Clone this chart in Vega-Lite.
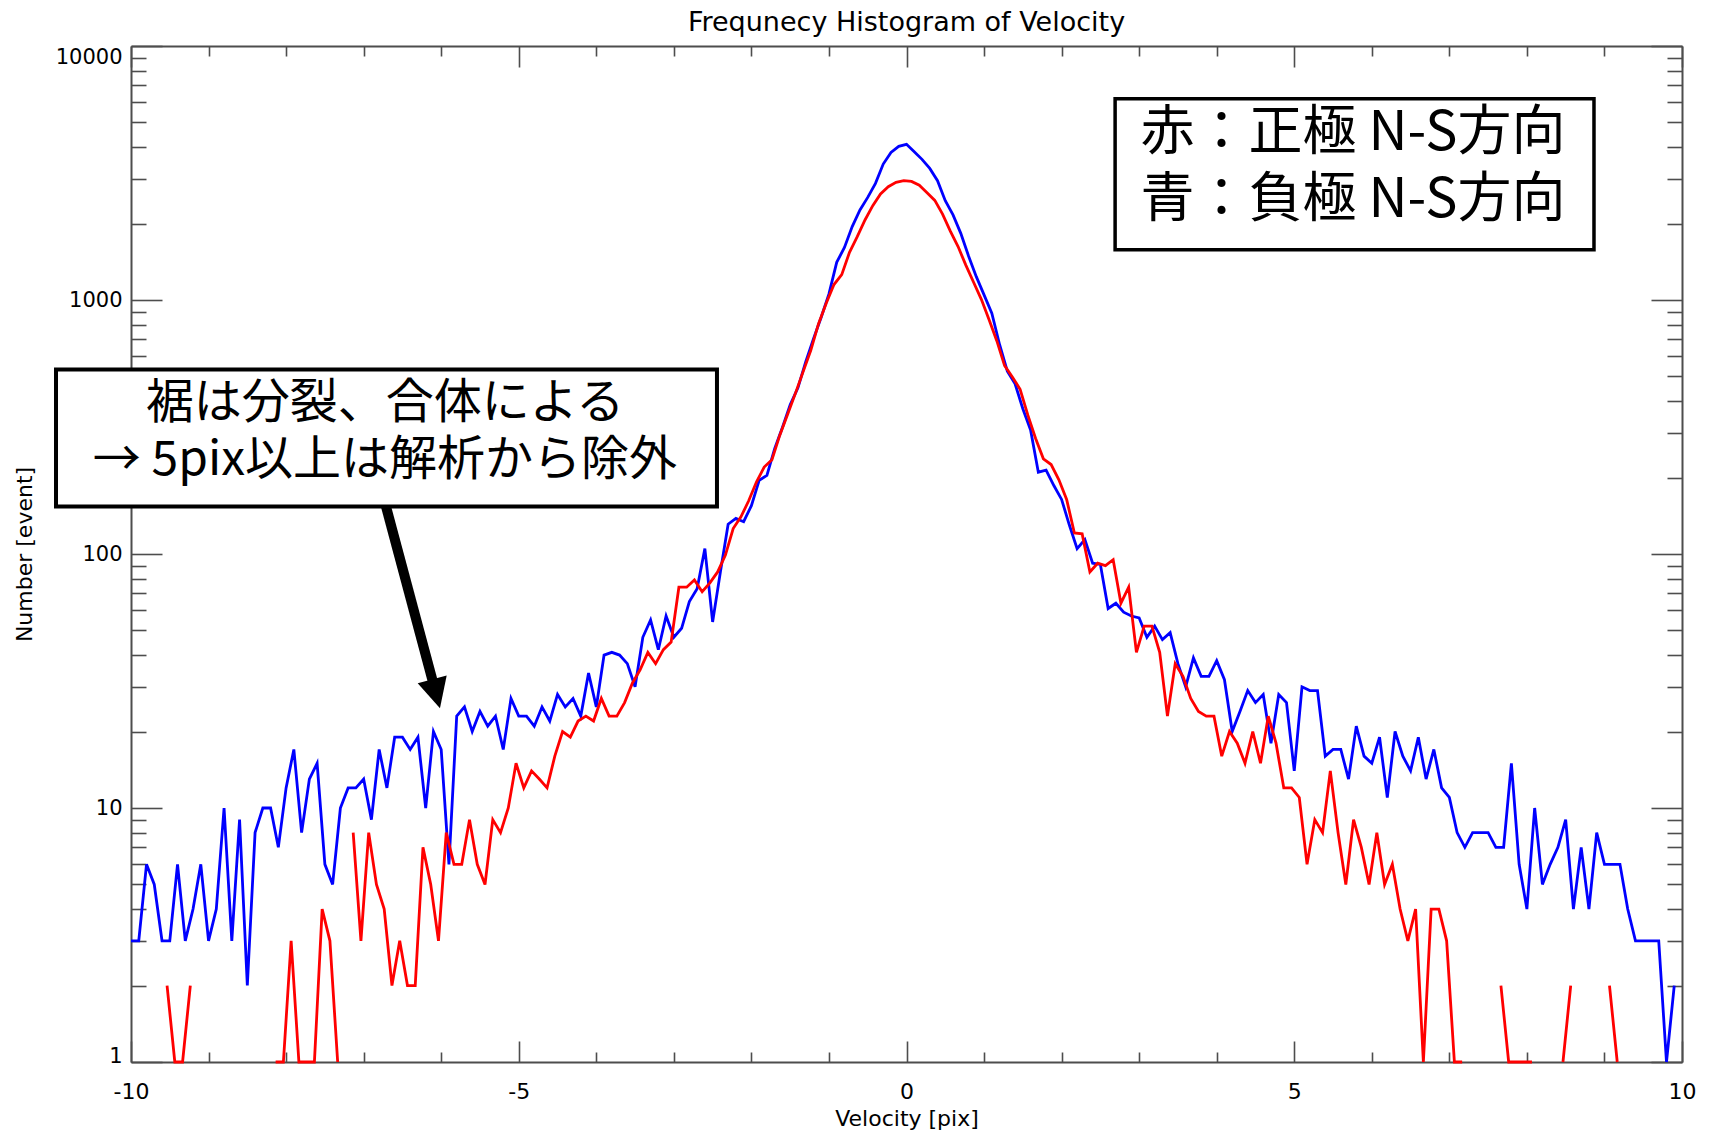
{
  "$schema": "https://vega.github.io/schema/vega-lite/v6.json",
  "width": 1551,
  "height": 1016,
  "autosize": "none",
  "padding": {"left": 131, "top": 46, "right": 31, "bottom": 72},
  "background": "white",
  "data": {"values": [{}]},
  "config": {
    "view": {"stroke": null},
    "font": "DejaVu Sans",
    "axis": {
      "domainColor": "#4d4d4d",
      "domainWidth": 2,
      "tickColor": "#4d4d4d",
      "tickWidth": 1.6,
      "labelFont": "DejaVu Sans",
      "labelFontSize": 21,
      "labelColor": "#000000",
      "titleFont": "DejaVu Sans",
      "titleFontSize": 22,
      "titleFontWeight": "normal",
      "titleColor": "#000000",
      "grid": false,
      "labelOverlap": false,
      "labelFlush": false
    }
  },
  "title": {
    "text": "Frequnecy Histogram of Velocity",
    "font": "DejaVu Sans",
    "fontSize": 27,
    "fontWeight": "normal",
    "color": "#000000",
    "frame": "group",
    "anchor": "middle",
    "baseline": "alphabetic",
    "offset": -13
  },
  "datasets": {
    "negative": [
      {"v": -10, "n": 3}, {"v": -9.9, "n": 3}, {"v": -9.8, "n": 6}, {"v": -9.7, "n": 5}, {"v": -9.6, "n": 3},
      {"v": -9.5, "n": 3}, {"v": -9.4, "n": 6}, {"v": -9.3, "n": 3}, {"v": -9.2, "n": 4}, {"v": -9.1, "n": 6},
      {"v": -9, "n": 3}, {"v": -8.9, "n": 4}, {"v": -8.8, "n": 10}, {"v": -8.7, "n": 3}, {"v": -8.6, "n": 9},
      {"v": -8.5, "n": 2}, {"v": -8.4, "n": 8}, {"v": -8.3, "n": 10}, {"v": -8.2, "n": 10}, {"v": -8.1, "n": 7},
      {"v": -8, "n": 12}, {"v": -7.9, "n": 17}, {"v": -7.8, "n": 8}, {"v": -7.7, "n": 13}, {"v": -7.6, "n": 15},
      {"v": -7.5, "n": 6}, {"v": -7.4, "n": 5}, {"v": -7.3, "n": 10}, {"v": -7.2, "n": 12}, {"v": -7.1, "n": 12},
      {"v": -7, "n": 13}, {"v": -6.9, "n": 9}, {"v": -6.8, "n": 17}, {"v": -6.7, "n": 12}, {"v": -6.6, "n": 19},
      {"v": -6.5, "n": 19}, {"v": -6.4, "n": 17}, {"v": -6.3, "n": 19}, {"v": -6.2, "n": 10}, {"v": -6.1, "n": 20},
      {"v": -6, "n": 17}, {"v": -5.9, "n": 6}, {"v": -5.8, "n": 23}, {"v": -5.7, "n": 25}, {"v": -5.6, "n": 20},
      {"v": -5.5, "n": 24}, {"v": -5.4, "n": 21}, {"v": -5.3, "n": 23}, {"v": -5.2, "n": 17}, {"v": -5.1, "n": 27},
      {"v": -5, "n": 23}, {"v": -4.9, "n": 23}, {"v": -4.8, "n": 21}, {"v": -4.7, "n": 25}, {"v": -4.6, "n": 22},
      {"v": -4.5, "n": 28}, {"v": -4.4, "n": 25}, {"v": -4.3, "n": 27}, {"v": -4.2, "n": 23}, {"v": -4.1, "n": 34},
      {"v": -4, "n": 25}, {"v": -3.9, "n": 40}, {"v": -3.8, "n": 41}, {"v": -3.7, "n": 40}, {"v": -3.6, "n": 37},
      {"v": -3.5, "n": 30}, {"v": -3.4, "n": 47}, {"v": -3.3, "n": 55}, {"v": -3.2, "n": 42}, {"v": -3.1, "n": 57},
      {"v": -3, "n": 47}, {"v": -2.9, "n": 51}, {"v": -2.8, "n": 65}, {"v": -2.7, "n": 73}, {"v": -2.6, "n": 105},
      {"v": -2.5, "n": 54}, {"v": -2.4, "n": 85}, {"v": -2.3, "n": 131}, {"v": -2.2, "n": 138}, {"v": -2.1, "n": 134},
      {"v": -2, "n": 155}, {"v": -1.9, "n": 195}, {"v": -1.8, "n": 204}, {"v": -1.7, "n": 260}, {"v": -1.6, "n": 315},
      {"v": -1.5, "n": 387}, {"v": -1.4, "n": 451}, {"v": -1.3, "n": 571}, {"v": -1.2, "n": 703}, {"v": -1.1, "n": 855},
      {"v": -1, "n": 1057}, {"v": -0.9, "n": 1407}, {"v": -0.8, "n": 1611}, {"v": -0.7, "n": 1945}, {"v": -0.6, "n": 2261},
      {"v": -0.5, "n": 2535}, {"v": -0.4, "n": 2878}, {"v": -0.3, "n": 3430}, {"v": -0.2, "n": 3811}, {"v": -0.1, "n": 4027},
      {"v": 0, "n": 4100}, {"v": 0.1, "n": 3837}, {"v": 0.2, "n": 3578}, {"v": 0.3, "n": 3296}, {"v": 0.4, "n": 2950},
      {"v": 0.5, "n": 2461}, {"v": 0.6, "n": 2162}, {"v": 0.7, "n": 1830}, {"v": 0.8, "n": 1490}, {"v": 0.9, "n": 1236},
      {"v": 1, "n": 1048}, {"v": 1.1, "n": 887}, {"v": 1.2, "n": 668}, {"v": 1.3, "n": 525}, {"v": 1.4, "n": 468},
      {"v": 1.5, "n": 373}, {"v": 1.6, "n": 308}, {"v": 1.7, "n": 210}, {"v": 1.8, "n": 214}, {"v": 1.9, "n": 186},
      {"v": 2, "n": 164}, {"v": 2.1, "n": 130}, {"v": 2.2, "n": 105}, {"v": 2.3, "n": 114}, {"v": 2.4, "n": 92},
      {"v": 2.5, "n": 91}, {"v": 2.6, "n": 61}, {"v": 2.7, "n": 64}, {"v": 2.8, "n": 59}, {"v": 2.9, "n": 57},
      {"v": 3, "n": 56}, {"v": 3.1, "n": 47}, {"v": 3.2, "n": 52}, {"v": 3.3, "n": 46}, {"v": 3.4, "n": 49},
      {"v": 3.5, "n": 37}, {"v": 3.6, "n": 30}, {"v": 3.7, "n": 39}, {"v": 3.8, "n": 33}, {"v": 3.9, "n": 33},
      {"v": 4, "n": 38}, {"v": 4.1, "n": 32}, {"v": 4.2, "n": 20}, {"v": 4.3, "n": 24}, {"v": 4.4, "n": 29},
      {"v": 4.5, "n": 26}, {"v": 4.6, "n": 28}, {"v": 4.7, "n": 18}, {"v": 4.8, "n": 28}, {"v": 4.9, "n": 26},
      {"v": 5, "n": 14}, {"v": 5.1, "n": 30}, {"v": 5.2, "n": 29}, {"v": 5.3, "n": 29}, {"v": 5.4, "n": 16},
      {"v": 5.5, "n": 17}, {"v": 5.6, "n": 17}, {"v": 5.7, "n": 13}, {"v": 5.8, "n": 21}, {"v": 5.9, "n": 16},
      {"v": 6, "n": 15}, {"v": 6.1, "n": 19}, {"v": 6.2, "n": 11}, {"v": 6.3, "n": 20}, {"v": 6.4, "n": 16},
      {"v": 6.5, "n": 14}, {"v": 6.6, "n": 19}, {"v": 6.7, "n": 13}, {"v": 6.8, "n": 17}, {"v": 6.9, "n": 12},
      {"v": 7, "n": 11}, {"v": 7.1, "n": 8}, {"v": 7.2, "n": 7}, {"v": 7.3, "n": 8}, {"v": 7.4, "n": 8},
      {"v": 7.5, "n": 8}, {"v": 7.6, "n": 7}, {"v": 7.7, "n": 7}, {"v": 7.8, "n": 15}, {"v": 7.9, "n": 6},
      {"v": 8, "n": 4}, {"v": 8.1, "n": 10}, {"v": 8.2, "n": 5}, {"v": 8.3, "n": 6}, {"v": 8.4, "n": 7},
      {"v": 8.5, "n": 9}, {"v": 8.6, "n": 4}, {"v": 8.7, "n": 7}, {"v": 8.8, "n": 4}, {"v": 8.9, "n": 8},
      {"v": 9, "n": 6}, {"v": 9.1, "n": 6}, {"v": 9.2, "n": 6}, {"v": 9.3, "n": 4}, {"v": 9.4, "n": 3},
      {"v": 9.5, "n": 3}, {"v": 9.6, "n": 3}, {"v": 9.7, "n": 3}, {"v": 9.8, "n": 1}, {"v": 9.9, "n": 2}
    ],
    "positive": [
      {"v": -9.535, "n": 2}, {"v": -9.435, "n": 1}, {"v": -9.335, "n": 1}, {"v": -9.235, "n": 2},
      {"v": -9.135, "n": null}, {"v": -9.035, "n": null}, {"v": -8.935, "n": null}, {"v": -8.835, "n": null},
      {"v": -8.735, "n": null}, {"v": -8.635, "n": null}, {"v": -8.535, "n": null}, {"v": -8.435, "n": null},
      {"v": -8.335, "n": null}, {"v": -8.235, "n": null},
      {"v": -8.135, "n": 1}, {"v": -8.035, "n": 1}, {"v": -7.935, "n": 3}, {"v": -7.835, "n": 1}, {"v": -7.735, "n": 1},
      {"v": -7.635, "n": 1}, {"v": -7.535, "n": 4}, {"v": -7.435, "n": 3}, {"v": -7.335, "n": 1},
      {"v": -7.235, "n": null},
      {"v": -7.135, "n": 8}, {"v": -7.035, "n": 3}, {"v": -6.935, "n": 8}, {"v": -6.835, "n": 5}, {"v": -6.735, "n": 4},
      {"v": -6.635, "n": 2}, {"v": -6.535, "n": 3}, {"v": -6.435, "n": 2}, {"v": -6.335, "n": 2}, {"v": -6.235, "n": 7},
      {"v": -6.135, "n": 5}, {"v": -6.035, "n": 3}, {"v": -5.935, "n": 8}, {"v": -5.835, "n": 6}, {"v": -5.735, "n": 6},
      {"v": -5.635, "n": 9}, {"v": -5.535, "n": 6}, {"v": -5.435, "n": 5}, {"v": -5.335, "n": 9}, {"v": -5.235, "n": 8},
      {"v": -5.135, "n": 10}, {"v": -5.035, "n": 15}, {"v": -4.935, "n": 12}, {"v": -4.835, "n": 14}, {"v": -4.735, "n": 13},
      {"v": -4.635, "n": 12}, {"v": -4.535, "n": 16}, {"v": -4.435, "n": 20}, {"v": -4.335, "n": 19}, {"v": -4.235, "n": 22},
      {"v": -4.135, "n": 23}, {"v": -4.035, "n": 22}, {"v": -3.935, "n": 27}, {"v": -3.835, "n": 23}, {"v": -3.735, "n": 23},
      {"v": -3.635, "n": 26}, {"v": -3.535, "n": 31}, {"v": -3.435, "n": 35}, {"v": -3.335, "n": 41}, {"v": -3.235, "n": 37},
      {"v": -3.135, "n": 42}, {"v": -3.035, "n": 45}, {"v": -2.935, "n": 74}, {"v": -2.835, "n": 74}, {"v": -2.735, "n": 79},
      {"v": -2.635, "n": 71}, {"v": -2.535, "n": 77}, {"v": -2.435, "n": 85}, {"v": -2.335, "n": 99}, {"v": -2.235, "n": 126},
      {"v": -2.135, "n": 140}, {"v": -2.035, "n": 162}, {"v": -1.935, "n": 192}, {"v": -1.835, "n": 220}, {"v": -1.735, "n": 235},
      {"v": -1.635, "n": 293}, {"v": -1.535, "n": 353}, {"v": -1.435, "n": 427}, {"v": -1.335, "n": 520}, {"v": -1.235, "n": 632},
      {"v": -1.135, "n": 805}, {"v": -1.035, "n": 971}, {"v": -0.935, "n": 1150}, {"v": -0.835, "n": 1259}, {"v": -0.735, "n": 1541},
      {"v": -0.635, "n": 1775}, {"v": -0.535, "n": 2066}, {"v": -0.435, "n": 2351}, {"v": -0.335, "n": 2614}, {"v": -0.235, "n": 2793},
      {"v": -0.135, "n": 2905}, {"v": -0.035, "n": 2950}, {"v": 0.065, "n": 2930}, {"v": 0.165, "n": 2830}, {"v": 0.265, "n": 2646},
      {"v": 0.365, "n": 2467}, {"v": 0.465, "n": 2178}, {"v": 0.565, "n": 1867}, {"v": 0.665, "n": 1623}, {"v": 0.765, "n": 1372},
      {"v": 0.865, "n": 1175}, {"v": 0.965, "n": 1006}, {"v": 1.065, "n": 837}, {"v": 1.165, "n": 690}, {"v": 1.265, "n": 552},
      {"v": 1.365, "n": 498}, {"v": 1.465, "n": 445}, {"v": 1.565, "n": 352}, {"v": 1.665, "n": 285}, {"v": 1.765, "n": 237},
      {"v": 1.865, "n": 225}, {"v": 1.965, "n": 196}, {"v": 2.065, "n": 164}, {"v": 2.165, "n": 121}, {"v": 2.265, "n": 120},
      {"v": 2.365, "n": 85}, {"v": 2.465, "n": 92}, {"v": 2.565, "n": 90}, {"v": 2.665, "n": 95}, {"v": 2.765, "n": 64},
      {"v": 2.865, "n": 74}, {"v": 2.965, "n": 41}, {"v": 3.065, "n": 52}, {"v": 3.165, "n": 52}, {"v": 3.265, "n": 41},
      {"v": 3.365, "n": 23}, {"v": 3.465, "n": 37}, {"v": 3.565, "n": 33}, {"v": 3.665, "n": 27}, {"v": 3.765, "n": 24},
      {"v": 3.865, "n": 23}, {"v": 3.965, "n": 23}, {"v": 4.065, "n": 16}, {"v": 4.165, "n": 20}, {"v": 4.265, "n": 18},
      {"v": 4.365, "n": 15}, {"v": 4.465, "n": 20}, {"v": 4.565, "n": 15}, {"v": 4.665, "n": 23}, {"v": 4.765, "n": 18},
      {"v": 4.865, "n": 12}, {"v": 4.965, "n": 12}, {"v": 5.065, "n": 11}, {"v": 5.165, "n": 6}, {"v": 5.265, "n": 9},
      {"v": 5.365, "n": 8}, {"v": 5.465, "n": 14}, {"v": 5.565, "n": 8}, {"v": 5.665, "n": 5}, {"v": 5.765, "n": 9},
      {"v": 5.865, "n": 7}, {"v": 5.965, "n": 5}, {"v": 6.065, "n": 8}, {"v": 6.165, "n": 5}, {"v": 6.265, "n": 6},
      {"v": 6.365, "n": 4}, {"v": 6.465, "n": 3}, {"v": 6.565, "n": 4}, {"v": 6.665, "n": 1}, {"v": 6.765, "n": 4},
      {"v": 6.865, "n": 4}, {"v": 6.965, "n": 3}, {"v": 7.065, "n": 1}, {"v": 7.165, "n": 1},
      {"v": 7.265, "n": null}, {"v": 7.365, "n": null}, {"v": 7.465, "n": null}, {"v": 7.565, "n": null},
      {"v": 7.665, "n": 2}, {"v": 7.765, "n": 1}, {"v": 7.865, "n": 1}, {"v": 7.965, "n": 1}, {"v": 8.065, "n": 1},
      {"v": 8.165, "n": null}, {"v": 8.265, "n": null}, {"v": 8.365, "n": null},
      {"v": 8.465, "n": 1}, {"v": 8.565, "n": 2},
      {"v": 8.665, "n": null}, {"v": 8.765, "n": null}, {"v": 8.865, "n": null}, {"v": 8.965, "n": null},
      {"v": 9.065, "n": 2}, {"v": 9.165, "n": 1}
    ]
  },
  "layer": [
    {
      "data": {"name": "negative"},
      "mark": {"type": "line", "color": "#0000ff", "strokeWidth": 2.8, "invalid": "break-paths-filter-domains"},
      "encoding": {
        "x": {
          "field": "v", "type": "quantitative",
          "scale": {"domain": [-10, 10], "nice": false, "zero": false},
          "axis": {
            "orient": "bottom",
            "title": "Velocity [pix]",
            "values": [-10, -9, -8, -7, -6, -5, -4, -3, -2, -1, 0, 1, 2, 3, 4, 5, 6, 7, 8, 9, 10],
            "labelExpr": "datum.value % 5 === 0 ? '' + datum.value : ''",
            "tickSize": {"condition": {"test": "datum.value % 5 === 0", "value": -21}, "value": -10},
            "labelFontSize": 22,
            "labelBaseline": "top",
            "labelPadding": 40,
            "titlePadding": -5
          }
        },
        "y": {
          "field": "n", "type": "quantitative",
          "scale": {"type": "log", "domain": [1, 10000], "nice": false},
          "axis": {
            "orient": "left",
            "title": "Number [event]",
            "values": [1, 2, 3, 4, 5, 6, 7, 8, 9, 10, 20, 30, 40, 50, 60, 70, 80, 90, 100, 200, 300, 400, 500, 600, 700, 800, 900, 1000, 2000, 3000, 4000, 5000, 6000, 7000, 8000, 9000, 10000],
            "labelExpr": "indexof([1, 10, 100, 1000, 10000], datum.value) >= 0 ? '' + datum.value : ''",
            "tickSize": {"condition": {"test": "indexof([1, 10, 100, 1000, 10000], datum.value) >= 0", "value": -31}, "value": -15},
            "labelBaseline": {"condition": [{"test": "datum.value === 1", "value": "alphabetic"}, {"test": "datum.value === 10000", "value": "top"}], "value": "middle"},
            "labelPadding": 40,
            "titlePadding": 19
          }
        }
      }
    },
    {
      "data": {"name": "positive"},
      "mark": {"type": "line", "color": "#ff0000", "strokeWidth": 2.8, "invalid": "break-paths-filter-domains"},
      "encoding": {
        "x": {
          "field": "v", "type": "quantitative",
          "scale": {"domain": [-10, 10], "nice": false, "zero": false},
          "axis": {
            "orient": "top",
            "title": null,
            "labels": false,
            "values": [-10, -9, -8, -7, -6, -5, -4, -3, -2, -1, 0, 1, 2, 3, 4, 5, 6, 7, 8, 9, 10],
            "tickSize": {"condition": {"test": "datum.value % 5 === 0", "value": -21}, "value": -10}
          }
        },
        "y": {
          "field": "n", "type": "quantitative",
          "scale": {"type": "log", "domain": [1, 10000], "nice": false},
          "axis": {
            "orient": "right",
            "title": null,
            "labels": false,
            "values": [1, 2, 3, 4, 5, 6, 7, 8, 9, 10, 20, 30, 40, 50, 60, 70, 80, 90, 100, 200, 300, 400, 500, 600, 700, 800, 900, 1000, 2000, 3000, 4000, 5000, 6000, 7000, 8000, 9000, 10000],
            "tickSize": {"condition": {"test": "indexof([1, 10, 100, 1000, 10000], datum.value) >= 0", "value": -31}, "value": -15}
          }
        }
      }
    },
    {
      "mark": {"type": "rect", "fill": "#ffffff", "stroke": "#000000", "strokeWidth": 3.5},
      "encoding": {
        "x": {"datum": 2.69, "type": "quantitative", "scale": {"domain": [-10, 10], "nice": false, "zero": false}, "axis": null},
        "x2": {"datum": 8.865},
        "y": {"datum": 6197, "type": "quantitative", "scale": {"type": "log", "domain": [1, 10000], "nice": false}, "axis": null},
        "y2": {"datum": 1578}
      }
    },
    {
      "mark": {"type": "text", "text": "赤：正極 N-S方向", "font": "Noto Sans CJK JP", "fontSize": 54, "align": "center", "baseline": "middle", "color": "#000000"},
      "encoding": {
        "x": {"datum": 5.757, "type": "quantitative", "scale": {"domain": [-10, 10], "nice": false, "zero": false}, "axis": null},
        "y": {"datum": 4500, "type": "quantitative", "scale": {"type": "log", "domain": [1, 10000], "nice": false}, "axis": null}
      }
    },
    {
      "mark": {"type": "text", "text": "青：負極 N-S方向", "font": "Noto Sans CJK JP", "fontSize": 54, "align": "center", "baseline": "middle", "color": "#000000"},
      "encoding": {
        "x": {"datum": 5.757, "type": "quantitative", "scale": {"domain": [-10, 10], "nice": false, "zero": false}, "axis": null},
        "y": {"datum": 2460, "type": "quantitative", "scale": {"type": "log", "domain": [1, 10000], "nice": false}, "axis": null}
      }
    },
    {
      "mark": {"type": "rect", "fill": "#ffffff", "stroke": "#000000", "strokeWidth": 4},
      "encoding": {
        "x": {"datum": -10.967, "type": "quantitative", "scale": {"domain": [-10, 10], "nice": false, "zero": false}, "axis": null},
        "x2": {"datum": -2.444},
        "y": {"datum": 532.5, "type": "quantitative", "scale": {"type": "log", "domain": [1, 10000], "nice": false}, "axis": null},
        "y2": {"datum": 153.9}
      }
    },
    {
      "mark": {"type": "text", "text": "裾は分裂、合体による", "font": "Noto Sans CJK JP", "fontSize": 48, "align": "center", "baseline": "middle", "color": "#000000"},
      "encoding": {
        "x": {"datum": -6.725, "type": "quantitative", "scale": {"domain": [-10, 10], "nice": false, "zero": false}, "axis": null},
        "y": {"datum": 391.3, "type": "quantitative", "scale": {"type": "log", "domain": [1, 10000], "nice": false}, "axis": null}
      }
    },
    {
      "mark": {"type": "text", "text": "→ 5pix以上は解析から除外", "font": "Noto Sans CJK JP", "fontSize": 48, "align": "center", "baseline": "middle", "color": "#000000"},
      "encoding": {
        "x": {"datum": -6.725, "type": "quantitative", "scale": {"domain": [-10, 10], "nice": false, "zero": false}, "axis": null},
        "y": {"datum": 231.3, "type": "quantitative", "scale": {"type": "log", "domain": [1, 10000], "nice": false}, "axis": null}
      }
    },
    {
      "mark": {"type": "rule", "color": "#000000", "strokeWidth": 10},
      "encoding": {
        "x": {"datum": -6.712, "type": "quantitative", "scale": {"domain": [-10, 10], "nice": false, "zero": false}, "axis": null},
        "y": {"datum": 153.9, "type": "quantitative", "scale": {"type": "log", "domain": [1, 10000], "nice": false}, "axis": null},
        "x2": {"datum": -6.066},
        "y2": {"datum": 28.17}
      }
    },
    {
      "mark": {"type": "point", "shape": "M-1,-1L1,-1L0,1Z", "size": 900, "angle": 345, "filled": true, "color": "#000000", "opacity": 1, "strokeWidth": 0},
      "encoding": {
        "x": {"datum": -6.066, "type": "quantitative", "scale": {"domain": [-10, 10], "nice": false, "zero": false}, "axis": null},
        "y": {"datum": 28.17, "type": "quantitative", "scale": {"type": "log", "domain": [1, 10000], "nice": false}, "axis": null}
      }
    }
  ],
  "resolve": {"axis": {"x": "independent", "y": "independent"}}
}
